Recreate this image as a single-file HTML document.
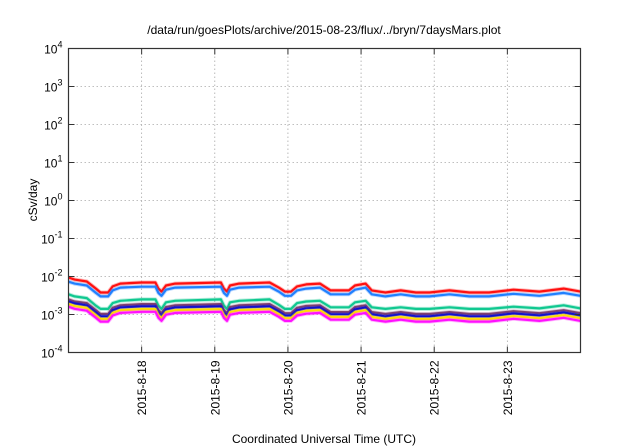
<!DOCTYPE html>
<html><head><meta charset="utf-8"><style>
html,body{margin:0;padding:0;background:#fff;}
svg{display:block;font-family:"Liberation Sans",sans-serif;}
</style></head><body>
<svg id="chart" width="640" height="448" viewBox="0 0 640 448" xmlns="http://www.w3.org/2000/svg">
<text x="324" y="34" font-size="12" text-anchor="middle" fill="#000">/data/run/goesPlots/archive/2015-08-23/flux/../bryn/7daysMars.plot</text>
<text transform="translate(37,200) rotate(-90)" font-size="12" text-anchor="middle" fill="#000">cSv/day</text>
<text x="324" y="443" font-size="12" text-anchor="middle" fill="#000">Coordinated Universal Time (UTC)</text>
<g id="grid"></g><g id="series"></g><g id="axes"></g>
</svg>
<script>
const hours=[0,2,6,9,10.5,13,14.5,17,24,28.5,29.5,30.5,32,35,50,51,52,53,56,66,69,71,73,75,78,82.5,86,92,94,97.5,99.5,104,109,114,118.5,125,131.5,138,146,154.5,162.5,168];
const red=[9.4,8.3,7.4,4.8,3.8,3.8,5.5,6.5,6.95,6.95,4.8,4.0,5.8,6.5,6.95,4.8,4.0,5.8,6.5,6.95,5.1,4.0,4.0,5.5,6.2,6.5,4.3,4.3,5.8,6.5,4.3,3.8,4.3,3.8,3.8,4.3,3.8,3.8,4.5,4.0,4.8,4.0];
const blue=[7.3,6.5,5.8,3.7,3.0,3.0,4.3,5.1,5.4,5.4,3.7,3.1,4.5,5.1,5.4,3.7,3.1,4.5,5.1,5.4,4.0,3.1,3.1,4.3,4.8,5.1,3.4,3.4,4.5,5.1,3.4,3.0,3.4,3.0,3.0,3.4,3.0,3.0,3.5,3.1,3.7,3.1];
const green=[3.4,3.0,2.7,1.7,1.4,1.4,2.0,2.3,2.5,2.5,1.7,1.4,2.1,2.3,2.5,1.7,1.4,2.1,2.3,2.5,1.8,1.4,1.4,2.0,2.2,2.3,1.55,1.55,2.1,2.3,1.55,1.4,1.55,1.4,1.4,1.55,1.4,1.4,1.6,1.45,1.75,1.45];
const purple=[2.5,2.2,2.0,1.3,1.03,1.03,1.5,1.75,1.88,1.88,1.3,1.08,1.57,1.75,1.88,1.3,1.08,1.57,1.75,1.88,1.38,1.08,1.08,1.5,1.67,1.75,1.16,1.16,1.57,1.75,1.16,1.03,1.16,1.03,1.03,1.16,1.03,1.03,1.22,1.08,1.3,1.08];
const darkblue=[2.2,1.95,1.74,1.13,0.89,0.89,1.29,1.53,1.63,1.63,1.13,0.94,1.36,1.53,1.63,1.13,0.94,1.36,1.53,1.63,1.2,0.94,0.94,1.29,1.46,1.53,1.01,1.01,1.36,1.53,1.01,0.89,1.01,0.89,0.89,1.01,0.89,0.89,1.06,0.94,1.13,0.94];
const yellow=[1.88,1.66,1.48,0.96,0.76,0.76,1.1,1.3,1.39,1.39,0.96,0.8,1.16,1.3,1.39,0.96,0.8,1.16,1.3,1.39,1.02,0.8,0.8,1.1,1.24,1.3,0.86,0.86,1.16,1.3,0.86,0.76,0.86,0.76,0.76,0.86,0.76,0.76,0.9,0.8,0.96,0.8];
const magenta=[1.6,1.41,1.26,0.82,0.65,0.65,0.94,1.1,1.18,1.18,0.82,0.68,0.99,1.1,1.18,0.82,0.68,0.99,1.1,1.18,0.87,0.68,0.68,0.94,1.05,1.1,0.73,0.73,0.99,1.1,0.73,0.65,0.73,0.65,0.65,0.73,0.65,0.65,0.77,0.68,0.82,0.68];
const valueScale=1e-3;
const yExponents=[-4,-3,-2,-1,0,1,2,3,4];
const dayLabels=["2015-8-18","2015-8-19","2015-8-20","2015-8-21","2015-8-22","2015-8-23"];
const dayHours=[24,48,72,96,120,144];

const L=68.5,R=580.5,T=48.5,B=352.5;
const xScale=h=>L+(h/168)*(R-L);
const yScale=v=>B-(Math.log10(v)+4)/8*(B-T);
const NS="http://www.w3.org/2000/svg";
function mk(tag,attrs,parent){const e=document.createElementNS(NS,tag);for(const k in attrs)e.setAttribute(k,attrs[k]);parent.appendChild(e);return e;}
const grid=document.getElementById('grid'),axes=document.getElementById('axes'),ser=document.getElementById('series');

yExponents.forEach(ex=>{
  const y=yScale(Math.pow(10,ex));
  if(ex>-4&&ex<4){const g=mk('line',{x1:L,x2:R,y1:y,y2:y,stroke:'#aaa','stroke-width':0.8,'stroke-dasharray':'1.5,2.5'},grid);
  
  }
  const t=mk('line',{x1:L,x2:L+6,y1:y,y2:y,stroke:'#333','stroke-width':1},axes);
  
  
  mk('line',{x1:R,x2:R-6,y1:y,y2:y,stroke:'#333','stroke-width':1},axes);
  const lab=mk('text',{x:L-6,y:y+5,'font-size':12,'text-anchor':'end',fill:'#000'},axes);
  
  
  lab.textContent='10';
  const sup=mk('tspan',{dy:-6,'font-size':9},lab);sup.textContent=String(ex);
});
dayHours.forEach((h,i)=>{
  const x=xScale(h);
  const g=mk('line',{x1:x,x2:x,y1:T,y2:B,stroke:'#aaa','stroke-width':0.8,'stroke-dasharray':'1.5,2.5'},grid);
  
  
  const t=mk('line',{x1:x,x2:x,y1:B,y2:B-6,stroke:'#333','stroke-width':1},axes);
  
  
  mk('line',{x1:x,x2:x,y1:T,y2:T+6,stroke:'#333','stroke-width':1},axes);
  const lab=mk('text',{transform:`translate(${x+4.5},${B+8}) rotate(-90)`,'font-size':12,'text-anchor':'end',fill:'#000'},axes);
  
  
  lab.textContent=dayLabels[i];
});
const frame=mk('rect',{x:L,y:T,width:R-L,height:B-T,fill:'none',stroke:'#333','stroke-width':1.2},axes);



const seriesList=[[red,'#ff1010','series-red'],[blue,'#2080ff','series-blue'],[green,'#10c890','series-green'],[purple,'#804070','series-purple'],[darkblue,'#1010d0','series-dark-blue'],[yellow,'#ffe000','series-yellow'],[magenta,'#ff10ff','series-magenta']];
seriesList.forEach(([vals,col,name])=>{
  const d=vals.map((v,i)=>(i?'L':'M')+xScale(hours[i]).toFixed(1)+','+yScale(v*valueScale).toFixed(1)).join(' ');
  mk('path',{d:d,fill:'none',stroke:col,'stroke-width':4,'stroke-opacity':0.3,'stroke-linejoin':'round'},ser);
  const p=mk('path',{d:d,fill:'none',stroke:col,'stroke-width':2.2,'stroke-linejoin':'round'},ser);
  
  
});
</script>
</body></html>
